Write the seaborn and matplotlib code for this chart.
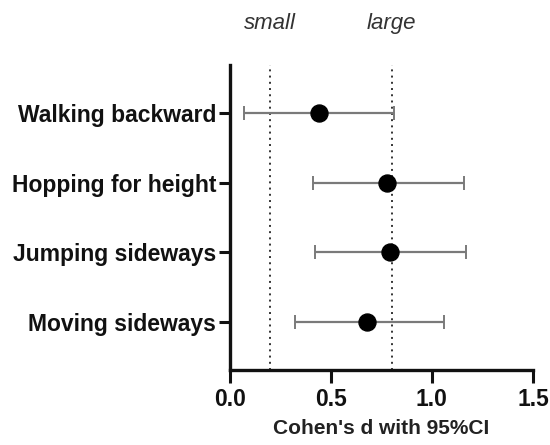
import matplotlib
matplotlib.use("Agg")
import matplotlib.pyplot as plt
import seaborn as sns
import pandas as pd

tasks = ["Walking backward", "Hopping for height", "Jumping sideways", "Moving sideways"]
cohens_d = [0.44, 0.78, 0.79, 0.68]
ci_low = [0.07, 0.41, 0.42, 0.32]
ci_high = [0.81, 1.16, 1.17, 1.06]
thresholds = [0.2, 0.8]
threshold_labels = ["small", "large"]

df = pd.DataFrame({"task": tasks, "d": cohens_d, "lo": ci_low, "hi": ci_high})

sns.set_style("ticks")
plt.rcParams['font.family'] = ['Liberation Sans', 'DejaVu Sans']

fig = plt.figure(figsize=(5.5, 4.45), dpi=100)
ax = fig.add_axes([0.418, 0.1685, 0.551, 0.6855])

ypos = list(range(len(tasks)))
for th in thresholds:
    ax.axvline(th, color="#333333", linestyle=(0, (1, 2.2)), linewidth=1.4, zorder=1)

ax.errorbar(df["d"], ypos,
            xerr=[df["d"] - df["lo"], df["hi"] - df["d"]],
            fmt="none", ecolor="#7a7a7a", elinewidth=1.6, capsize=5, capthick=1.4, zorder=2)
sns.scatterplot(x=df["d"], y=ypos, color="black", s=150, edgecolor="black", ax=ax, zorder=3)

ax.set_xlim(0, 1.5)
ax.set_ylim(3.68, -0.68)
ax.set_xticks([0, 0.5, 1.0, 1.5])
ax.set_xticklabels(["0.0", "0.5", "1.0", "1.5"])
ax.set_yticks(ypos)
ax.set_yticklabels(tasks)

for lab in ax.get_xticklabels() + ax.get_yticklabels():
    lab.set_fontweight("bold")
    lab.set_fontsize(16.5)
    lab.set_color("#111111")

ax.tick_params(axis="y", length=8, width=2.2, color="#111111", pad=2)
ax.tick_params(axis="x", length=9, width=2.2, color="#111111", pad=4)
for side in ["top", "right"]:
    ax.spines[side].set_visible(False)
for side in ["left", "bottom"]:
    ax.spines[side].set_linewidth(2.4)
    ax.spines[side].set_color("#111111")

ax.set_xlabel("Cohen's d with 95%CI", fontsize=15, fontweight="bold", color="#222222", labelpad=6)
ax.set_ylabel("")

trans = ax.get_xaxis_transform()
for th, lab in zip(thresholds, threshold_labels):
    ax.text(th, 1.135, lab, transform=trans, ha="center", va="center",
            fontsize=16, style="italic", color="#333333")

fig.savefig("out.png", dpi=100)
